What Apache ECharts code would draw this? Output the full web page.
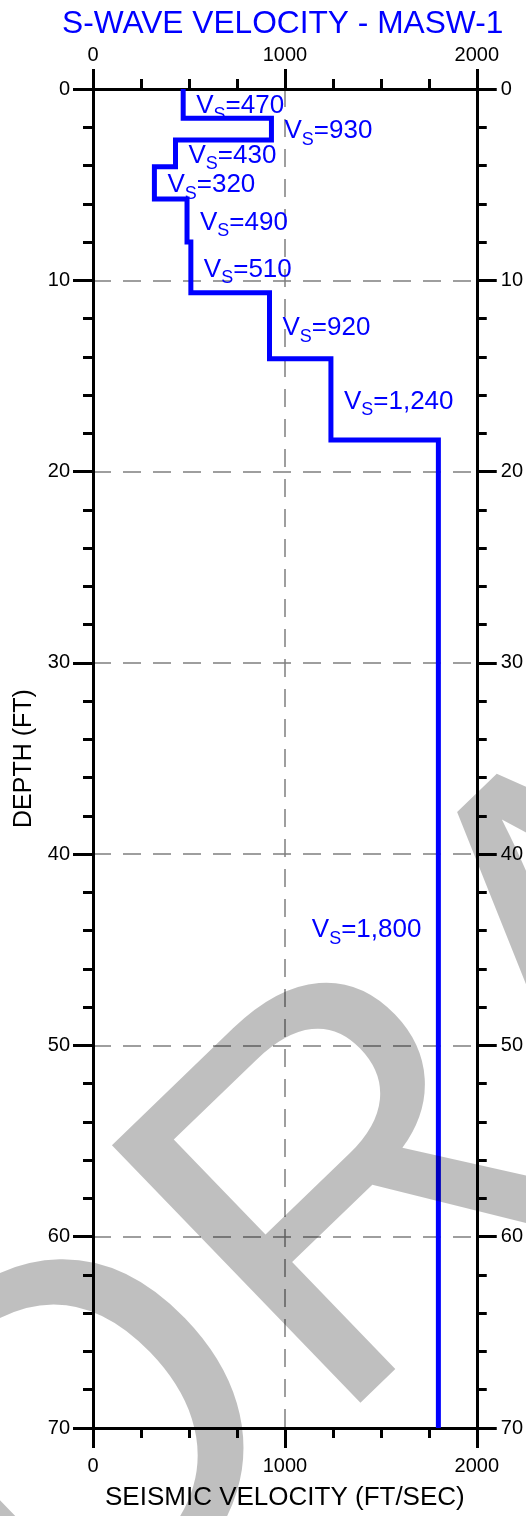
<!DOCTYPE html>
<html><head><meta charset="utf-8">
<script src="https://cdn.jsdelivr.net/npm/echarts@6/dist/echarts.min.js"></script>
<style>html,body{margin:0;padding:0;background:#fff}#c{width:526px;height:1516px}</style>
</head><body><div id="c"></div>
<script>
// ---- data ----
const chartTitle = 'S-WAVE VELOCITY - MASW-1';
const xAxisName = 'SEISMIC VELOCITY (FT/SEC)';
const yAxisName = 'DEPTH (FT)';
const watermarkText = 'DRAFT';
const layerVelocity = [470, 930, 430, 320, 490, 510, 920, 1240, 1800];
const layerTop =      [0, 1.53, 2.67, 4.06, 5.75, 8.0, 10.65, 14.1, 18.35];
const layerBottom =   [1.53, 2.67, 4.06, 5.75, 8.0, 10.65, 14.1, 18.35, 70];
const velocityTicks = [0, 1000, 2000];
const depthTicks = [0, 10, 20, 30, 40, 50, 60, 70];

// ---- build ----
const FONT = '"Liberation Sans", Arial, sans-serif';
const BLUE = '#0000ff';
const profile = [];
layerVelocity.forEach((v, i) => { profile.push([v, layerTop[i]]); profile.push([v, layerBottom[i]]); });
const last = layerVelocity.length - 1;
const labelData = layerVelocity.map((v, i) => ({
  value: [v, (layerTop[i] + layerBottom[i]) / 2],
  label: i === last
    ? { position: 'left', distance: 17, offset: [0, -4] }
    : { position: 'right', distance: 13 }
}));

const vMin = velocityTicks[0], vMax = velocityTicks[velocityTicks.length - 1];
const vInt = velocityTicks[1] - velocityTicks[0];
const dMin = depthTicks[0], dMax = depthTicks[depthTicks.length - 1];
const dInt = depthTicks[1] - depthTicks[0];

const axisLineStyle = { color: '#000', width: 3 };
const gridDash = { color: '#7f7f7f', width: 1.5, type: [18, 12] };
const tickLabel = { color: '#000', fontSize: 20, fontFamily: FONT, formatter: v => String(v) };

function xAx(pos, extra) {
  return Object.assign({
    type: 'value', position: pos, min: vMin, max: vMax, interval: vInt,
    axisLine: { show: true, onZero: false, lineStyle: axisLineStyle },
    axisTick: { show: true, inside: false, length: 20, lineStyle: { color: '#000', width: 3 } },
    minorTick: { show: true, splitNumber: 4, length: 10, lineStyle: { color: '#000', width: 3 } },
    axisLabel: Object.assign({}, tickLabel),
    splitLine: { show: false }
  }, extra);
}
function yAx(pos, extra) {
  return Object.assign({
    type: 'value', position: pos, inverse: true, min: dMin, max: dMax, interval: dInt,
    axisLine: { show: true, onZero: false, lineStyle: axisLineStyle },
    axisTick: { show: true, inside: false, length: 20, lineStyle: { color: '#000', width: 3 } },
    minorTick: { show: true, splitNumber: 5, length: 10, lineStyle: { color: '#000', width: 3 } },
    axisLabel: Object.assign({}, tickLabel),
    splitLine: { show: false }
  }, extra);
}

const chart = echarts.init(document.getElementById('c'), null, { renderer: 'canvas' });
chart.setOption({
  animation: false,
  backgroundColor: '#fff',
  title: {
    text: chartTitle, left: 62, top: 8, padding: 0,
    textStyle: { fontSize: 31.7, fontWeight: 'normal', color: BLUE, fontFamily: FONT }
  },
  grid: { left: 93, right: 48, top: 89, bottom: 84, containLabel: false },
  xAxis: [
    xAx('bottom', {
      name: xAxisName, nameLocation: 'middle', nameGap: 57,
      nameTextStyle: { fontSize: 26, color: '#000', fontFamily: FONT },
      axisLabel: Object.assign({}, tickLabel, { margin: 28 }),
      splitLine: { show: true, lineStyle: gridDash }
    }),
    xAx('top', { axisLabel: Object.assign({}, tickLabel, { margin: 24 }) })
  ],
  yAxis: [
    yAx('left', {
      name: yAxisName, nameLocation: 'middle', nameGap: 54, nameRotate: 90,
      nameTextStyle: { fontSize: 25, color: '#000', fontFamily: FONT },
      axisLabel: Object.assign({}, tickLabel, { margin: 23 }),
      splitLine: { show: true, lineStyle: gridDash }
    }),
    yAx('right', { axisLabel: Object.assign({}, tickLabel, { margin: 24 }) })
  ],
  series: [
    {
      type: 'line', xAxisIndex: 0, yAxisIndex: 0, data: profile,
      showSymbol: false, symbol: 'none', z: 5,
      lineStyle: { color: BLUE, width: 5, join: 'miter', cap: 'butt' }
    },
    {
      type: 'scatter', xAxisIndex: 0, yAxisIndex: 0, data: labelData,
      symbolSize: 0, z: 6, silent: true,
      itemStyle: { opacity: 1, color: BLUE },
      label: {
        show: true, color: BLUE, opacity: 1, fontFamily: FONT, offset: [0, 2],
        formatter: p => '{v|V}{s|S}{t|=' + p.value[0].toLocaleString('en-US') + '}',
        rich: {
          v: { fontSize: 26, lineHeight: 26, color: BLUE, fontFamily: FONT, verticalAlign: 'top' },
          t: { fontSize: 26, lineHeight: 26, color: BLUE, fontFamily: FONT, verticalAlign: 'top' },
          s: { fontSize: 18, lineHeight: 18, color: BLUE, fontFamily: FONT, verticalAlign: 'top', padding: [13, 0, 0, 0] }
        }
      },
      emphasis: { disabled: true }
    }
  ],
  graphic: [{
    type: 'text', x: -40, y: 1590, rotation: 44 * Math.PI / 180, z: 100, silent: true,
    style: {
      text: watermarkText, font: '520px "Liberation Sans"', fill: 'rgba(0,0,0,0.25)',
      textAlign: 'left', verticalAlign: 'middle', textVerticalAlign: 'middle'
    }
  }]
});
</script></body></html>
